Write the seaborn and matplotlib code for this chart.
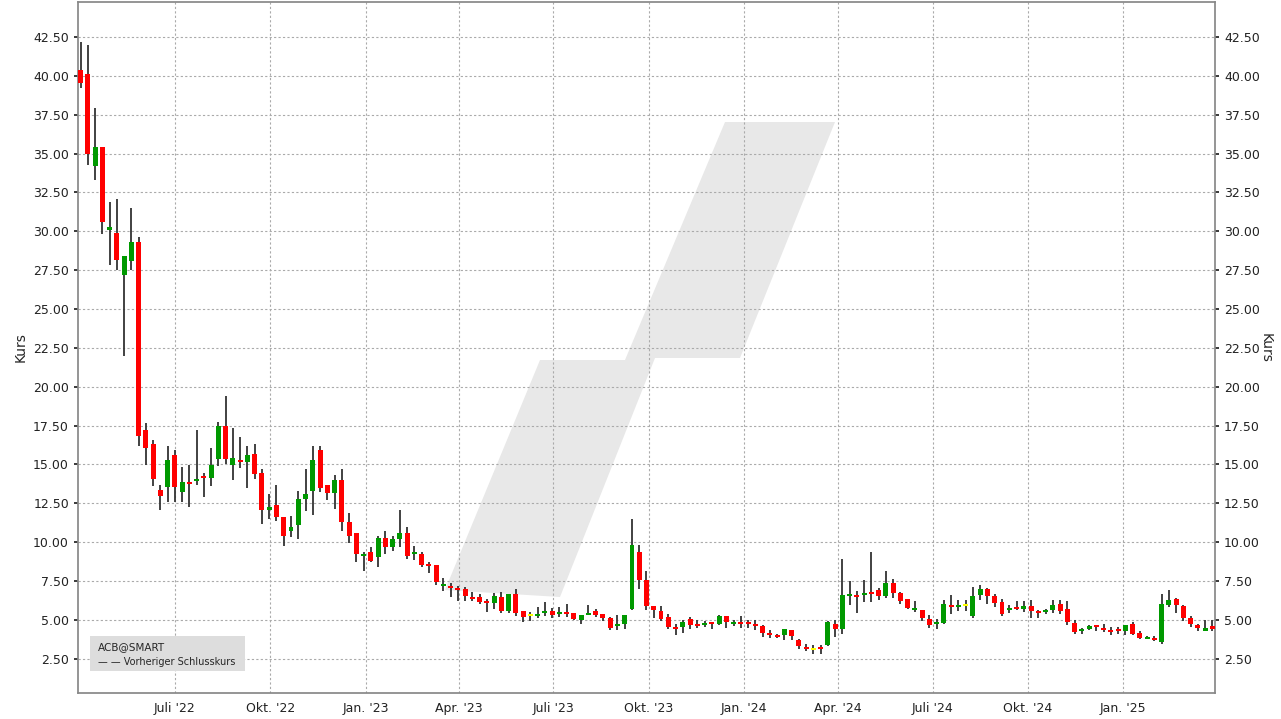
import numpy as np
import pandas as pd
import matplotlib
matplotlib.use("Agg")
import matplotlib.pyplot as plt
import matplotlib.dates as mdates
from matplotlib.patches import Polygon
import seaborn as sns

sns.set_theme(style="white")
plt.rcParams['font.family'] = ['DejaVu Sans']

start_date = "2022-04-01"
opens = [40.4,40.1,34.23,35.45,30.06,29.9,27.22,28.08,29.3,17.24,16.33,13.33,13.55,15.64,13.2,13.84,13.93,14.23,14.14,15.36,
         17.5,14.94,15.32,15.15,15.7,14.44,12.1,12.37,11.62,10.73,11.11,12.76,13.29,15.96,13.67,13.18,14.0,11.3,10.58,9.12,
         9.38,9.06,10.28,9.72,10.23,10.58,9.23,9.25,8.63,8.55,7.2,7.2,7.05,6.99,6.5,6.5,6.24,6.11,6.47,5.58,
         6.67,5.58,5.27,5.25,5.43,5.58,5.36,5.53,5.43,5.02,5.34,5.56,5.41,5.13,4.59,4.76,5.73,9.36,7.54,5.88,
         5.56,5.17,4.53,4.53,5.09,4.72,4.66,4.83,4.72,5.23,4.72,4.83,4.83,4.76,4.59,4.19,4.02,4.02,4.34,3.7,
         3.27,3.07,3.27,3.37,4.76,4.4,6.52,6.58,6.58,6.79,6.9,6.54,7.39,6.73,6.32,5.62,5.66,5.09,4.72,4.83,
         5.94,5.83,5.88,5.26,6.58,7.01,6.52,6.15,5.66,5.81,5.73,5.9,5.56,5.51,5.64,6.0,5.68,4.83,4.3,4.44,
         4.66,4.51,4.34,4.4,4.3,4.76,4.19,3.8,3.87,3.55,5.94,6.37,5.9,5.13,4.66,4.3,4.59]
closes = [39.55,34.96,35.4,30.6,30.27,28.14,28.4,29.3,16.82,16.05,14.04,12.97,15.32,13.55,13.9,13.74,14.08,14.12,14.98,17.5,
          15.36,15.43,15.15,15.64,14.4,12.1,12.25,11.65,10.41,10.98,12.76,13.08,15.28,13.5,13.18,14.0,11.32,10.4,9.27,9.23,
          8.8,10.3,9.72,10.19,10.58,9.12,9.38,8.55,8.48,7.42,7.33,7.07,6.94,6.56,6.35,6.18,6.07,6.54,5.56,6.69,
          5.43,5.17,5.27,5.36,5.53,5.34,5.53,5.36,5.09,5.34,5.47,5.34,5.15,4.49,4.76,5.3,9.85,7.54,5.88,5.66,
          5.09,4.53,4.4,4.89,4.7,4.59,4.83,4.72,5.23,4.87,4.83,4.72,4.72,4.59,4.17,4.02,3.91,4.4,3.95,3.33,
          3.12,3.07,3.12,4.87,4.4,6.62,6.62,6.47,6.73,6.69,6.54,7.39,6.75,6.22,5.77,5.73,5.13,4.66,4.83,6.05,
          5.83,5.94,5.88,6.52,7.01,6.54,6.11,5.41,5.79,5.68,5.88,5.56,5.47,5.64,5.94,5.56,4.87,4.23,4.4,4.59,
          4.55,4.38,4.23,4.3,4.7,4.12,3.87,3.89,3.7,6.05,6.3,5.94,5.15,4.76,4.49,4.51,4.44]
highs = [42.2,41.97,37.9,35.45,31.86,32.07,28.4,31.5,29.64,17.65,16.6,13.7,16.18,15.9,14.83,14.94,17.24,14.44,16.05,17.71,
         19.42,17.33,16.75,16.22,16.33,14.72,13.12,13.67,11.62,11.69,13.29,14.68,16.18,16.18,13.67,14.32,14.74,11.86,10.58,9.4,
         9.7,10.4,10.73,10.4,12.07,11.0,9.76,9.34,8.74,8.55,7.67,7.37,7.2,7.09,6.82,6.67,6.35,6.73,6.82,6.69,
         6.97,5.58,5.53,5.85,6.18,5.75,5.85,6.0,5.43,5.34,5.94,5.68,5.41,5.19,5.3,5.3,11.5,9.85,8.18,5.88,
         5.88,5.41,4.76,5.02,5.19,4.98,4.91,4.83,5.3,5.23,4.98,5.23,4.98,4.98,4.7,4.34,4.12,4.44,4.38,3.8,
         3.42,3.37,3.37,4.91,4.98,8.89,7.5,6.84,7.6,9.4,7.07,8.18,7.65,6.8,6.37,6.2,5.66,5.3,5.04,6.26,
         6.58,6.3,6.3,7.12,7.22,7.07,6.65,6.37,5.94,6.2,6.2,6.26,5.62,5.73,6.3,6.3,6.2,5.02,4.49,4.7,
         4.66,4.76,4.55,4.55,4.7,4.87,4.27,3.97,3.95,6.69,6.94,6.41,5.94,5.26,4.76,5.02,4.98]
lows = [39.2,34.27,33.27,29.85,27.86,27.5,21.95,27.5,16.18,14.94,13.6,12.05,12.58,12.58,12.58,12.26,13.7,12.9,13.6,14.9,
        15.04,13.97,14.76,13.5,14.08,11.2,11.5,11.37,9.76,10.36,10.23,12.0,11.75,13.23,12.71,12.16,10.73,9.98,8.7,8.16,
        8.7,8.43,9.27,9.44,9.66,8.95,8.87,8.38,8.01,7.27,6.88,6.5,6.25,6.25,6.25,6.03,5.54,5.71,5.44,5.44,
        5.28,4.85,4.95,5.1,5.28,5.1,5.17,5.19,4.98,4.76,5.3,5.17,4.91,4.34,4.34,4.44,5.66,6.97,5.62,5.13,
        4.94,4.4,4.06,4.19,4.4,4.49,4.55,4.4,4.66,4.49,4.59,4.49,4.49,4.34,3.91,3.85,3.87,3.7,3.7,3.16,
        2.99,2.84,2.8,3.33,3.91,4.12,5.94,5.47,6.15,6.15,6.26,6.43,6.43,6.0,5.73,5.51,4.91,4.49,4.44,4.76,
        5.41,5.56,5.56,5.13,6.3,6.05,5.83,5.26,5.47,5.62,5.51,5.15,5.13,5.41,5.47,5.41,4.66,4.12,4.08,4.34,
        4.27,4.23,4.02,4.12,4.02,4.02,3.8,3.76,3.63,3.42,5.83,5.47,4.94,4.55,4.27,4.27,4.3]

n = len(opens)
df = pd.DataFrame({"date": pd.date_range(start_date, periods=n, freq="7D"),
                   "open": opens, "high": highs, "low": lows, "close": closes})
df["x"] = mdates.date2num(df["date"])

def col(o, c):
    if abs(c - o) < 0.015:
        return "#ffff00"
    return "#009900" if c > o else "#ff0000"

df["color"] = [col(o, c) for o, c in zip(df.open, df.close)]

fig = plt.figure(figsize=(12.81, 7.19), dpi=100)
ax = fig.add_axes([78/1281, 1-693/719, (1215-78)/1281, 691/719])
ax.set_zorder(2)
ax.patch.set_alpha(0)

# watermark (behind axes)
pts = [(445, 590), (540, 360), (625, 360), (725, 122), (835, 122), (740, 358), (655, 358), (560, 597)]
poly = Polygon([(x/1281, 1-y/719) for x, y in pts], closed=True, transform=fig.transFigure,
               facecolor="#e8e8e8", edgecolor="none", zorder=1)
fig.patches.append(poly)

ax.vlines(df.x, df.low, df.high, color="#333333", linewidth=1.3, zorder=3)
bottoms = np.minimum(df.open, df.close)
heights = np.maximum(np.abs(df.close - df.open), 0.12)
ax.bar(df.x, heights, bottom=bottoms, width=4.8, color=df.color, edgecolor="none", zorder=4)

ax.set_xlim(df.x.iloc[0] - 2.5, df.x.iloc[-1] + 2.5)
ax.set_ylim(0.3, 44.75)
yt = np.arange(2.5, 43, 2.5)
ax.set_yticks(yt)
ax.set_yticklabels([f"{v:.2f}" for v in yt])
ax.tick_params(axis="y", labelsize=9, labelright=True, right=True, left=True, length=3, colors="#222222")

months = {1: "Jan.", 4: "Apr.", 7: "Juli", 10: "Okt."}
qdates = pd.date_range("2022-07-01", "2025-01-01", freq="QS")
ax.set_xticks(mdates.date2num(qdates))
ax.set_xticklabels([f"{months[d.month]} '{d.strftime('%y')}" for d in qdates])
ax.tick_params(axis="x", labelsize=9, length=3, colors="#222222")

ax.grid(True, color="#aaaaaa", linestyle=(0, (2, 2)), linewidth=0.8)
ax.set_axisbelow(True)
for s in ax.spines.values():
    s.set_color("#888888")

ax.set_ylabel("Kurs", fontsize=10)
fig.text(1266/1281, 1-348/719, "Kurs", fontsize=10, rotation=270, ha="center", va="center")

# legend box
fig.patches.append(matplotlib.patches.Rectangle((90/1281, 1-671/719), 155/1281, 35/719,
                   transform=fig.transFigure, facecolor="#dddddd", edgecolor="none", zorder=5))
fig.text(98/1281, 1-647/719, "ACB@SMART", fontsize=7.5, va="center", zorder=6)
fig.text(98/1281, 1-662/719, "— — Vorheriger Schlusskurs", fontsize=7, va="center", zorder=6)

fig.savefig("out.png", dpi=100)
